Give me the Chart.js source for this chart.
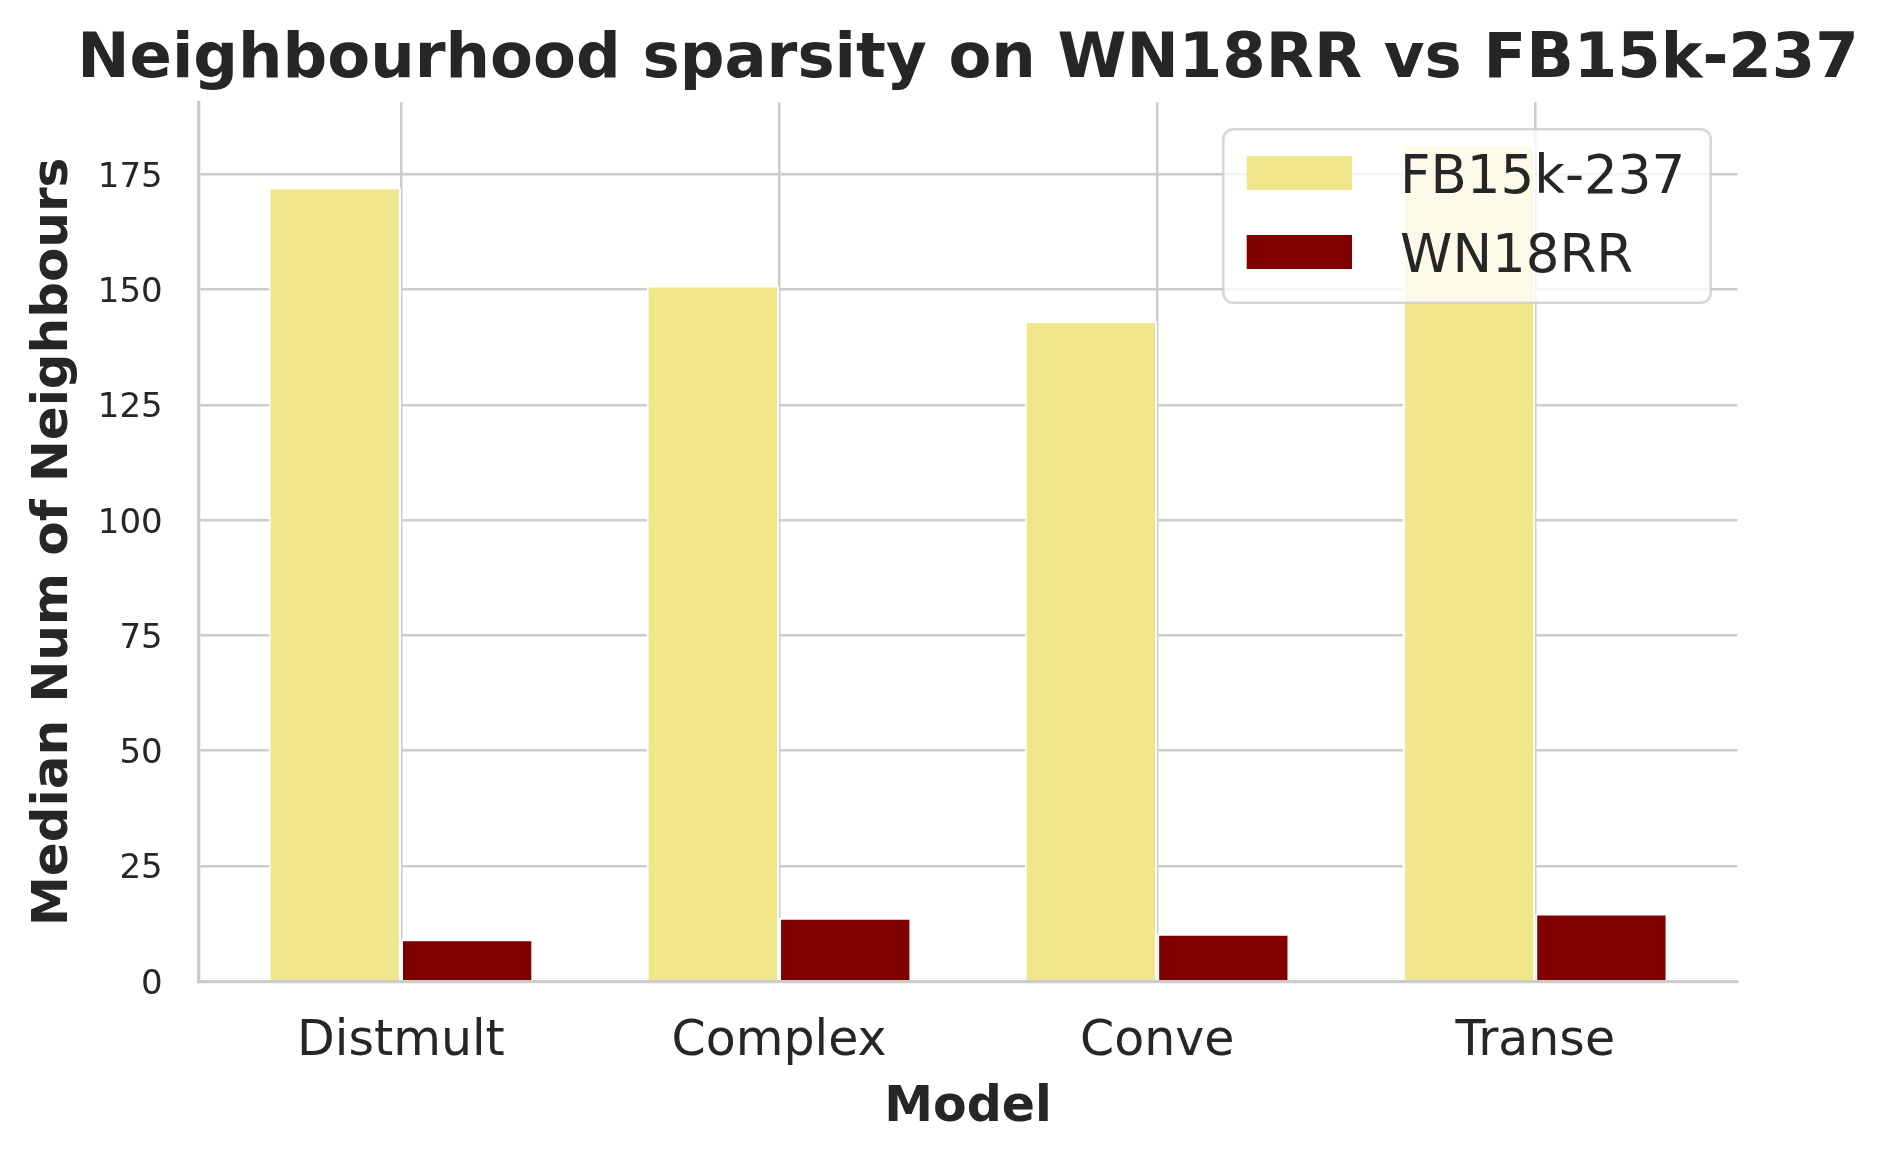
<!DOCTYPE html>
<html><head><meta charset="utf-8">
<script src="https://cdn.jsdelivr.net/npm/chart.js@4.4.1/dist/chart.umd.min.js"></script>
<style>html,body{margin:0;padding:0;background:#fff;} #wrap{width:1888px;height:1158px;}</style>
</head><body><div id="wrap"><canvas id="c" width="1888" height="1158"></canvas></div>
<script>
const categories = ['Distmult', 'Complex', 'Conve', 'Transe'];
const fb15kValues = [172.2, 150.9, 143.2, 181.5];
const wn18rrValues = [9.1, 13.8, 10.3, 14.7];
const seriesLabels = ['FB15k-237', 'WN18RR'];
const seriesColors = ['#F0E68C', '#800000'];
const yTickValues = [0, 25, 50, 75, 100, 125, 150, 175];
const chartTitle = 'Neighbourhood sparsity on WN18RR vs FB15k-237';
const xAxisTitle = 'Model';
const yAxisTitle = 'Median Num of Neighbours';

const TEXT = '#262626';
const GRID = '#cccccc';
const FONT = 'DejaVu Sans';

const boxLegend = {
  id: 'boxLegend',
  afterDraw(chart) {
    const ctx = chart.ctx, a = chart.chartArea;
    const w = 487.4, h = 173.4, r = 10;
    const x = a.right - 26.8 - w, y = a.top + 27;
    ctx.save();
    ctx.beginPath();
    ctx.moveTo(x + r, y);
    ctx.lineTo(x + w - r, y);
    ctx.arcTo(x + w, y, x + w, y + r, r);
    ctx.lineTo(x + w, y + h - r);
    ctx.arcTo(x + w, y + h, x + w - r, y + h, r);
    ctx.lineTo(x + r, y + h);
    ctx.arcTo(x, y + h, x, y + h - r, r);
    ctx.lineTo(x, y + r);
    ctx.arcTo(x, y, x + r, y, r);
    ctx.closePath();
    ctx.fillStyle = 'rgba(255,255,255,0.8)';
    ctx.fill();
    ctx.strokeStyle = 'rgba(204,204,204,0.8)';
    ctx.lineWidth = 2.5;
    ctx.stroke();
    chart.data.datasets.forEach((ds, i) => {
      ctx.fillStyle = ds.backgroundColor;
      ctx.fillRect(x + 23.4, y + 26.7 + i * 79, 105.3, 34);
      ctx.fillStyle = TEXT;
      ctx.font = '53px "' + FONT + '"';
      ctx.textBaseline = 'alphabetic';
      ctx.textAlign = 'left';
      ctx.fillText(ds.label, x + 176.7, y + 63.4 + i * 79);
    });
    ctx.restore();
  }
};

const makeSeries = (vals) => categories.map((c, i) => ({ x: i, y: vals[i] }));

new Chart(document.getElementById('c'), {
  type: 'bar',
  data: {
    datasets: [
      { label: seriesLabels[0], data: makeSeries(fb15kValues), backgroundColor: seriesColors[0],
        borderColor: '#ffffff', borderWidth: 2, borderSkipped: 'start',
        categoryPercentage: 0.7, barPercentage: 1.0 },
      { label: seriesLabels[1], data: makeSeries(wn18rrValues), backgroundColor: seriesColors[1],
        borderColor: '#ffffff', borderWidth: 2, borderSkipped: 'start',
        categoryPercentage: 0.7, barPercentage: 1.0 }
    ]
  },
  options: {
    responsive: false,
    animation: false,
    devicePixelRatio: 1,
    layout: { padding: { left: 48, right: 0, top: 0, bottom: 0 } },
    plugins: {
      legend: { display: false },
      tooltip: { enabled: false },
      title: {
        display: true, text: chartTitle, color: TEXT,
        font: { family: FONT, size: 62.5, weight: 'bold', lineHeight: 1.2 },
        padding: { top: 22.9, bottom: 4.4 }
      }
    },
    scales: {
      x: {
        type: 'linear', min: -0.535, max: 3.535, offset: false,
        afterBuildTicks: s => { s.ticks = categories.map((c, i) => ({ value: i })); },
        afterFit: s => { s.height = 176.7; },
        grid: { color: GRID, lineWidth: 2.5, drawTicks: false, offset: false },
        border: { display: true, color: GRID, width: 3.3, z: 1 },
        ticks: { color: TEXT, font: { family: FONT, size: 49 }, padding: 31.6,
                 maxRotation: 0, autoSkip: false, callback: v => categories[v] },
        title: { display: true, text: xAxisTitle, color: TEXT,
                 font: { family: FONT, size: 49, weight: 'bold', lineHeight: 1.2 },
                 padding: { top: 0, bottom: 20.6 } }
      },
      y: {
        type: 'linear', min: 0, max: 190.6,
        afterBuildTicks: s => { s.ticks = yTickValues.map(v => ({ value: v })); },
        afterFit: s => { s.width = 150.7; },
        grid: { color: GRID, lineWidth: 2.5, drawTicks: false },
        border: { display: true, color: GRID, width: 3.3, z: 1 },
        ticks: { color: TEXT, font: { family: FONT, size: 34 }, padding: 36, labelOffset: 3.6 },
        title: { display: true, text: yAxisTitle, color: TEXT,
                 font: { family: FONT, size: 50, weight: 'bold', lineHeight: 1.2 },
                 padding: { top: -23.5, bottom: 0 } }
      },
      yRight: {
        type: 'linear', position: 'right', display: true,
        afterFit: s => { s.width = 150.5; },
        grid: { display: false, drawTicks: false },
        border: { display: false },
        ticks: { display: false }
      }
    }
  },
  plugins: [boxLegend]
});
</script>
</body></html>
